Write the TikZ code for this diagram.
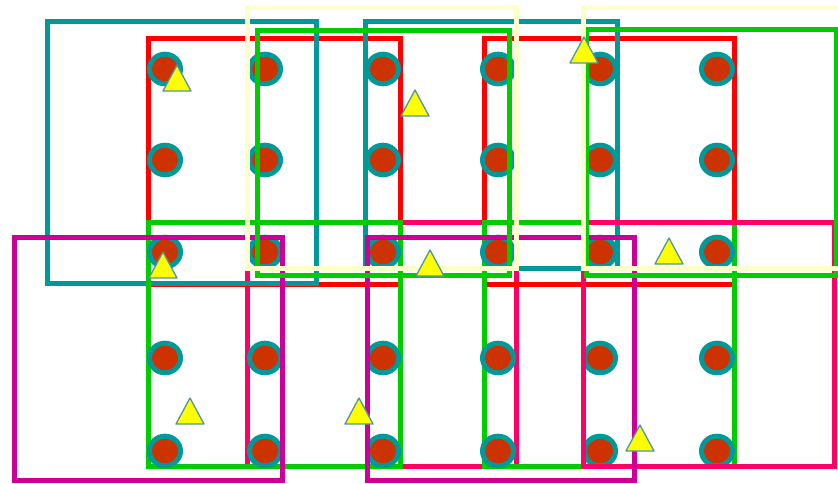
\documentclass[tikz,border=0pt]{standalone}
\usetikzlibrary{shapes.geometric}
\definecolor{cteal}{RGB}{0,153,153}
\definecolor{cred}{RGB}{255,0,0}
\definecolor{cgreen}{RGB}{0,204,0}
\definecolor{cpink}{RGB}{255,0,102}
\definecolor{cmag}{RGB}{204,0,153}
\definecolor{cyel}{RGB}{255,255,204}
\definecolor{cdot}{RGB}{204,51,0}
\definecolor{ctri}{RGB}{255,255,0}
\definecolor{ctriedge}{RGB}{80,150,160}
\tikzset{
  win/.style={line width=5pt},
  dotshape/.style={draw=cteal, fill=cdot, line width=5pt},
  tri/.style={draw=ctriedge, fill=ctri, line width=1.3pt, line join=round}
}
\begin{document}
\begin{tikzpicture}[x=1pt,y=-1pt]
\fill[white] (0,0) rectangle (838,484);
\useasboundingbox (0,0) rectangle (838,484);
% pink window 1
\draw[win,cpink] (247,222) rectangle (516,466);
% red windows
\draw[win,cred] (148,39) rectangle (400,284);
\draw[win,cred] (484,39) rectangle (734,284);
% teal windows
\draw[win,cteal] (47,22) rectangle (316,283);
\draw[win,cteal] (365,22) rectangle (617,268);
% green bottom windows
\draw[win,cgreen] (148,222) rectangle (400,466);
\draw[win,cgreen] (484,222) rectangle (734,466);
% dots
\foreach \r in {69,160,252,358,451}{
  \foreach \c in {165,265,383,498,600,717}{
    \draw[dotshape] (\c,\r) ellipse [x radius=15.5, y radius=14.8];
  }
}
% pink window 2
\draw[win,cpink] (583,222) rectangle (834,466);
% magenta windows
\draw[win,cmag] (14,237) rectangle (282,480);
\draw[win,cmag] (367,237) rectangle (634,480);
% green top windows
\draw[win,cgreen] (257,31) rectangle (509,275);
\draw[win,cgreen] (586,30) rectangle (836,275);
% light yellow windows
\draw[win,cyel] (247,8) rectangle (516,268);
\draw[win,cyel] (583,8) rectangle (845,268);
% triangles
\foreach \x/\y in {177/65, 415/90, 584/37, 163/252, 430/250, 669/238, 190/398, 359/398, 640/425}{
  \draw[tri] (\x,\y) -- ++(14,26) -- ++(-28,0) -- cycle;
}
\end{tikzpicture}
\end{document}
